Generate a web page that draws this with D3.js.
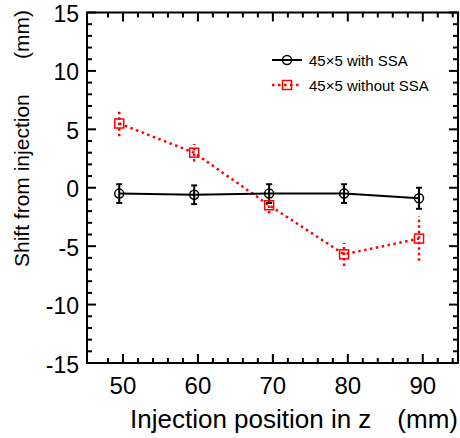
<!DOCTYPE html>
<html>
<head>
<meta charset="utf-8">
<script src="https://cdn.jsdelivr.net/npm/d3@7"></script>
<style>
	body{margin:0;background:#fff}
	svg{display:block;font-family:"Liberation Sans",Arial,sans-serif}
</style>
</head>
<body>
<svg id="chart" width="460" height="438"></svg>
<script>
// injection positions (mm)
const positions = [49.5, 59.5, 69.5, 79.5, 89.5]
// shift with SSA, and its error
const withSSA = [-0.5, -0.6, -0.5, -0.5, -0.9]
const withSSAErr = [0.8, 0.8, 0.8, 0.8, 0.9]
// shift without SSA, and its error
const withoutSSA = [5.5, 3.0, -1.5, -5.7, -4.35]
const withoutSSAErr = [1.1, 0.75, 0.7, 1.0, 1.9]
const xTickLabels = [50, 60, 70, 80, 90]
const yTickLabels = [15, 10, 5, 0, -5, -10, -15]
const seriesNames = ["45\u00d75 with SSA", "45\u00d75 without SSA"]

const svg = d3.select("#chart"),
plotLeft = 87, plotRight = 458, plotTop = 12.5, plotBottom = 363
const x = d3.scaleLinear().domain([45.2, 94.7]).range([plotLeft, plotRight])
const y = d3.scaleLinear().domain([-15, 15]).range([plotBottom, plotTop])

const frame = svg.append("g")
const tickStyle = s => s.attr("stroke", "#000").attr("stroke-width", 2)

// y ticks, left and right, pointing inward
const yMinor = d3.range(-15, 16, 1)
;[[plotLeft, 1], [plotRight, -1]].forEach(([x0, dir]) => {
	frame.append("g").selectAll("line")
		.data(yMinor).enter().append("line")
		.attr("x1", x0).attr("x2", d => x0 + dir * (d % 5 == 0 ? 9 : 5))
		.attr("y1", d => y(d)).attr("y2", d => y(d))
		.call(tickStyle)
})
// x ticks, bottom and top
const xMinor = d3.range(48, 95, 2)
;[[plotBottom, -1], [plotTop, 1]].forEach(([y0, dir]) => {
	frame.append("g").selectAll("line")
		.data(xMinor).enter().append("line")
		.attr("y1", y0).attr("y2", d => y0 + dir * (d % 10 == 0 ? 9 : 5))
		.attr("x1", d => x(d)).attr("x2", d => x(d))
		.call(tickStyle)
})
frame.append("rect")
	.attr("x", plotLeft).attr("y", plotTop)
	.attr("width", plotRight - plotLeft).attr("height", plotBottom - plotTop)
	.attr("fill", "none").attr("stroke", "#000").attr("stroke-width", 2)

// tick labels
svg.append("g").selectAll("text")
	.data(yTickLabels).enter().append("text")
	.attr("x", 79).attr("y", d => y(d) + 1.5)
	.attr("text-anchor", "end").attr("dominant-baseline", "central")
	.attr("font-size", 23).text(d => d)
svg.append("g").selectAll("text")
	.data(xTickLabels).enter().append("text")
	.attr("x", d => x(d)).attr("y", 394)
	.attr("text-anchor", "middle")
	.attr("font-size", 24).text(d => d)

// axis titles
svg.append("text").attr("x", 130).attr("y", 428).attr("font-size", 26).text("Injection position in z")
svg.append("text").attr("x", 458).attr("y", 428).attr("font-size", 26).attr("text-anchor", "end").text("(mm)")
svg.append("text").attr("transform", "translate(29,267) rotate(-90)").attr("font-size", 21).text("Shift from injection")
svg.append("text").attr("transform", "translate(29,10) rotate(-90)").attr("font-size", 21).attr("text-anchor", "end").text("(mm)")

// series
const red = "#ff0000"
const blackData = positions.map((p, i) => ({x: p, y: withSSA[i], e: withSSAErr[i]}))
const redData = positions.map((p, i) => ({x: p, y: withoutSSA[i], e: withoutSSAErr[i]}))
const line = d3.line().x(d => x(d.x)).y(d => y(d.y))

// red error bars (dotted)
svg.append("g").selectAll("line")
	.data(redData).enter().append("line")
	.attr("x1", d => x(d.x)).attr("x2", d => x(d.x))
	.attr("y1", d => y(d.y - d.e)).attr("y2", d => y(d.y + d.e))
	.attr("stroke", red).attr("stroke-width", 2.5).attr("stroke-dasharray", "2.5,3")
svg.append("path").datum(redData).attr("d", line)
	.attr("fill", "none").attr("stroke", red).attr("stroke-width", 2.5).attr("stroke-dasharray", "2.5,3.5")

// black error bars with caps
const eb = svg.append("g").attr("stroke", "#000").attr("stroke-width", 2)
eb.selectAll(".v").data(blackData).enter().append("line")
	.attr("x1", d => x(d.x)).attr("x2", d => x(d.x))
	.attr("y1", d => y(d.y - d.e)).attr("y2", d => y(d.y + d.e))
eb.selectAll(".c").data(blackData.flatMap(d => [d.y - d.e, d.y + d.e].map(v => ({x: d.x, v})))).enter().append("line")
	.attr("x1", d => x(d.x) - 3).attr("x2", d => x(d.x) + 3)
	.attr("y1", d => y(d.v)).attr("y2", d => y(d.v))
svg.append("path").datum(blackData).attr("d", line)
	.attr("fill", "none").attr("stroke", "#000").attr("stroke-width", 2)

// markers
svg.append("g").selectAll("rect")
	.data(redData).enter().append("rect")
	.attr("x", d => x(d.x) - 4.5).attr("y", d => y(d.y) - 4.5)
	.attr("width", 9).attr("height", 9)
	.attr("fill", "none").attr("stroke", red).attr("stroke-width", 1.5)
svg.append("g").selectAll("circle")
	.data(blackData).enter().append("circle")
	.attr("cx", d => x(d.x)).attr("cy", d => y(d.y)).attr("r", 4.5)
	.attr("fill", "none").attr("stroke", "#000").attr("stroke-width", 1.5)

// legend
const legend = svg.append("g")
const ly = [60, 85]
legend.append("line").attr("x1", 272).attr("x2", 302).attr("y1", ly[0]).attr("y2", ly[0])
	.attr("stroke", "#000").attr("stroke-width", 2)
legend.append("circle").attr("cx", 287).attr("cy", ly[0]).attr("r", 4.5)
	.attr("fill", "none").attr("stroke", "#000").attr("stroke-width", 1.5)
legend.append("line").attr("x1", 272).attr("x2", 302).attr("y1", ly[1]).attr("y2", ly[1])
	.attr("stroke", red).attr("stroke-width", 2.5).attr("stroke-dasharray", "2.5,3.5")
legend.append("rect").attr("x", 282.5).attr("y", ly[1] - 4.5).attr("width", 9).attr("height", 9)
	.attr("fill", "none").attr("stroke", red).attr("stroke-width", 1.5)
legend.selectAll("text").data(seriesNames).enter().append("text")
	.attr("x", 309).attr("y", (d, i) => ly[i]).attr("dominant-baseline", "central")
	.attr("font-size", 15).text(d => d)
</script>
</body>
</html>
